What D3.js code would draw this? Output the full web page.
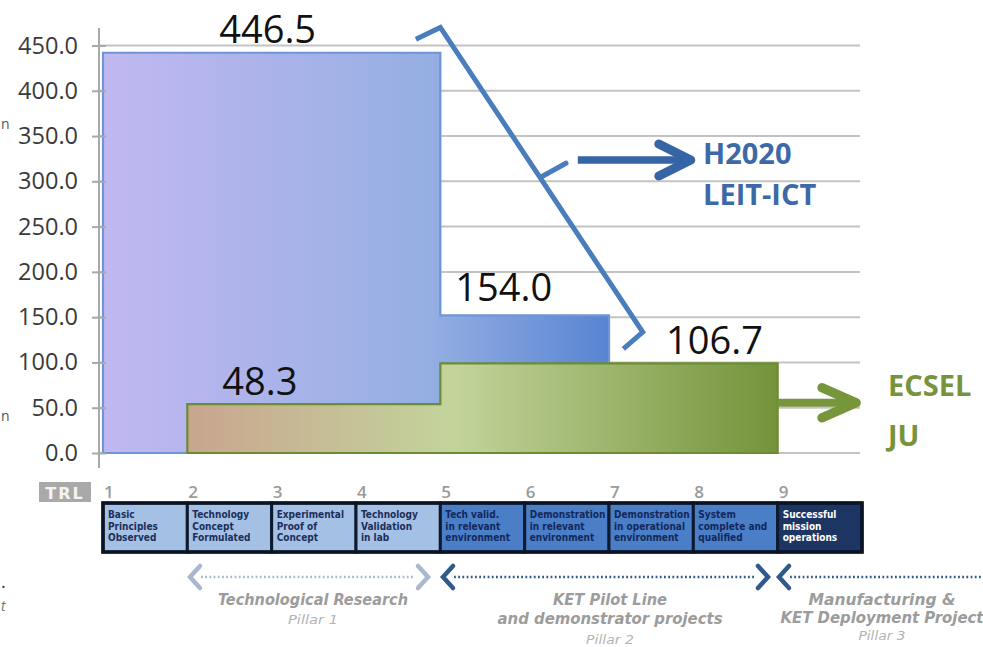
<!DOCTYPE html>
<html><head><meta charset="utf-8">
<script src="https://cdn.jsdelivr.net/npm/d3@7/dist/d3.min.js"></script>
<style>html,body{margin:0;padding:0;background:#fff;overflow:hidden}</style>
</head><body><svg id="c" width="983" height="647"></svg>
<script>
// ---------- data ----------
const trlLevels = [1, 2, 3, 4, 5, 6, 7, 8, 9];
const trlDescriptions = [
  ["Basic", "Principles", "Observed"],
  ["Technology", "Concept", "Formulated"],
  ["Experimental", "Proof of", "Concept"],
  ["Technology", "Validation", "in lab"],
  ["Tech valid.", "in relevant", "environment"],
  ["Demonstration", "in relevant", "environment"],
  ["Demonstration", "in operational", "environment"],
  ["System", "complete and", "qualified"],
  ["Successful", "mission", "operations"]
];
const trlGroups = ["research", "research", "research", "research", "pilot", "pilot", "pilot", "pilot", "mission"];
const yTickValues = [0, 50, 100, 150, 200, 250, 300, 350, 400, 450];
// funding per TRL level (bar heights as drawn)
const h2020Values = [442, 442, 442, 442, 152, 152, 0, 0, 0];
const ecselValues = [0, 54, 54, 54, 99, 99, 99, 99, 0];
const valueLabels = ["446.5", "154.0", "106.7", "48.3"];
const h2020Name = ["H2020", "LEIT-ICT"];
const ecselName = ["ECSEL", "JU"];
const pillarTexts = [
  ["Technological Research", "Pillar 1"],
  ["KET Pilot Line", "and demonstrator projects", "Pillar 2"],
  ["Manufacturing &", "KET Deployment Project", "Pillar 3"]
];

// ---------- setup ----------
const svg = d3.select("#c");
svg.append("rect").attr("width", 983).attr("height", 647).attr("fill", "#fff");
const x = d3.scaleLinear().domain([1, 10]).range([103, 862]);
const y = d3.scaleLinear().domain([0, 450]).range([453, 45.5]);
const AX = 99;

const defs = svg.append("defs");
const gb = defs.append("linearGradient").attr("id", "gBlue").attr("gradientUnits", "userSpaceOnUse")
  .attr("x1", x(1)).attr("x2", x(7)).attr("y1", 0).attr("y2", 0);
gb.append("stop").attr("offset", 0).attr("stop-color", "#c1b8f1");
gb.append("stop").attr("offset", 0.64).attr("stop-color", "#96afe3");
gb.append("stop").attr("offset", 1).attr("stop-color", "#5884d2");
const gg = defs.append("linearGradient").attr("id", "gGreen").attr("gradientUnits", "userSpaceOnUse")
  .attr("x1", x(2)).attr("x2", x(9)).attr("y1", 0).attr("y2", 0);
gg.append("stop").attr("offset", 0).attr("stop-color", "#c9a58f");
gg.append("stop").attr("offset", 0.45).attr("stop-color", "#c3d49b");
gg.append("stop").attr("offset", 1).attr("stop-color", "#74933a");

// gridlines
svg.append("g").selectAll("line").data(yTickValues).join("line")
  .attr("x1", AX).attr("x2", 860).attr("y1", d => y(d)).attr("y2", d => y(d))
  .attr("stroke", "#c3c3c3").attr("stroke-width", 2);

function stepPath(vals) {
  const first = vals.findIndex(v => v > 0);
  let last = vals.length - 1;
  while (vals[last] <= 0) last--;
  const pts = [[x(trlLevels[first]), y(0)]];
  for (let i = first; i <= last; i++) {
    pts.push([x(trlLevels[i]), y(vals[i])]);
    pts.push([x(trlLevels[i] + 1), y(vals[i])]);
  }
  pts.push([x(trlLevels[last] + 1), y(0)]);
  return d3.line()(pts) + "Z";
}
svg.append("path").attr("d", stepPath(h2020Values)).attr("fill", "url(#gBlue)")
  .attr("stroke", "#6d95d8").attr("stroke-width", 2.2);
svg.append("path").attr("d", stepPath(ecselValues)).attr("fill", "url(#gGreen)")
  .attr("stroke", "#6b8c32").attr("stroke-width", 2.2);

// y axis
const yAxis = d3.axisLeft(y).tickValues(yTickValues).tickFormat(d3.format(".1f")).tickSizeInner(7).tickSizeOuter(0).tickPadding(14);
const ga = svg.append("g").attr("transform", `translate(${AX},0)`).call(yAxis);
ga.select(".domain").remove();
ga.append("line").attr("x1", 0).attr("x2", 0).attr("y1", 28).attr("y2", 468).attr("stroke", "#a9a9a9").attr("stroke-width", 2);
ga.selectAll(".tick line").attr("x2", -7).attr("x1", 7).attr("stroke", "#a9a9a9").attr("stroke-width", 2);
ga.selectAll(".tick text").attr("font-family", "Open Sans, sans-serif").attr("font-size", 23.5)
  .attr("fill", "#3a3a3a");

// value labels
const lblFont = "Open Sans, sans-serif";
const labelSpecs = [
  { t: valueLabels[0], cx: (x(1) + x(5)) / 2 - 4, v: h2020Values[0], dy: -10, anchor: "middle" },
  { t: valueLabels[1], cx: x(5) + 15, v: h2020Values[4], dy: -14, anchor: "start" },
  { t: valueLabels[2], cx: x(7) + 57, v: ecselValues[6], dy: -9, anchor: "start" },
  { t: valueLabels[3], cx: x(2) + 35, v: ecselValues[1], dy: -9, anchor: "start" }
];
svg.append("g").selectAll("text").data(labelSpecs).join("text")
  .attr("x", d => d.cx).attr("y", d => y(d.v) + d.dy).attr("text-anchor", d => d.anchor)
  .attr("font-family", lblFont).attr("font-size", 38).attr("fill", "#111").text(d => d.t);

// bracket for H2020
const blueLine = "#4a7dbb";
const br = [[4.71, 457], [5.0, 470], [7.40, 133.5], [7.17, 115]];
svg.append("path").attr("d", d3.line()(br.map(p => [x(p[0]), y(p[1])])))
  .attr("fill", "none").attr("stroke", blueLine).attr("stroke-width", 5).attr("stroke-linejoin", "miter");
svg.append("path").attr("d", d3.line()([[6.2, 305], [6.49, 320]].map(p => [x(p[0]), y(p[1])])))
  .attr("fill", "none").attr("stroke", blueLine).attr("stroke-width", 5).attr("stroke-linecap", "round");

// arrows
function arrow(x0, x1, v, headBack, headSpread, color, w) {
  const g = svg.append("g").attr("stroke", color).attr("fill", "none").attr("stroke-linecap", "round").attr("stroke-linejoin", "round");
  g.append("line").attr("x1", x(x0)).attr("x2", x(x1) - 3).attr("y1", y(v)).attr("y2", y(v)).attr("stroke-width", w).attr("stroke-linecap", "butt");
  g.append("path").attr("d", d3.line()([[x(x1) - headBack, y(v) - headSpread], [x(x1), y(v)], [x(x1) - headBack, y(v) + headSpread]]))
    .attr("stroke-width", w + 1.5);
}
arrow(6.63, 7.97, 323.5, 32, 16, "#3665a6", 7.5);
arrow(9.0, 9.93, 55.5, 34, 15, "#77953b", 8);

// series names
function nameText(lines, xx, ys, color) {
  const t = svg.append("g").attr("font-family", "Open Sans, sans-serif").attr("font-weight", "bold")
    .attr("font-size", 29).attr("fill", color);
  lines.forEach((s, i) => t.append("text").attr("x", xx).attr("y", ys[i]).text(s));
}
nameText(h2020Name, 703, [164, 205], "#3d6aa7");
nameText(ecselName, 888, [396, 446], "#77933c");

// TRL row
const boxTop = 503, boxBot = 552;
svg.append("rect").attr("x", 39).attr("y", 482).attr("width", 52).attr("height", 20).attr("fill", "#a9a9a9");
svg.append("text").attr("x", 65).attr("y", 498.5).attr("text-anchor", "middle").attr("font-family", "DejaVu Sans, sans-serif")
  .attr("font-weight", "bold").attr("font-size", 16).attr("letter-spacing", 2).attr("fill", "#f4f4f4").text("TRL");
svg.append("g").selectAll("text").data(trlLevels).join("text")
  .attr("x", d => x(d) + 1).attr("y", 498).attr("font-family", "Open Sans, sans-serif").attr("font-size", 17)
  .attr("font-weight", 600).attr("fill", "#9a9a9a").text(d => d);
const fillFor = { research: "#a4c0e4", pilot: "#4a7ec7", mission: "#1d3562" };
const textFor = { research: "#1c2f5a", pilot: "#13285a", mission: "#ffffff" };
const boxes = svg.append("g").selectAll("g").data(trlLevels).join("g");
boxes.append("rect").attr("x", d => x(d)).attr("y", boxTop).attr("width", d => x(d + 1) - x(d)).attr("height", boxBot - boxTop)
  .attr("fill", (d, i) => fillFor[trlGroups[i]]).attr("stroke", "#0e1a30").attr("stroke-width", 3);
boxes.each(function (d, i) {
  const g = d3.select(this);
  const avail = x(d + 1) - x(d) - 8;
  trlDescriptions[i].forEach((s, j) => {
    const t = g.append("text").attr("x", x(d) + 5).attr("y", 518 + j * 11.5)
      .attr("font-family", "Liberation Sans Narrow, DejaVu Sans Condensed, Liberation Sans, sans-serif")
      .attr("font-weight", "bold").attr("font-size", 10).attr("fill", textFor[trlGroups[i]]).text(s);
    const L = t.node().getComputedTextLength();
    if (L > avail) t.attr("textLength", avail).attr("lengthAdjust", "spacingAndGlyphs");
  });
});
svg.append("rect").attr("x", x(1)).attr("y", boxTop).attr("width", x(10) - x(1)).attr("height", boxBot - boxTop)
  .attr("fill", "none").attr("stroke", "#0a1426").attr("stroke-width", 3.5);

// pillar arrows
const ay = 577;
function chevron(xx, dir, color) {
  svg.append("path").attr("d", d3.line()([[xx + dir * 10, ay - 11], [xx, ay], [xx + dir * 10, ay + 11]]))
    .attr("fill", "none").attr("stroke", color).attr("stroke-width", 4.5).attr("stroke-linecap", "round");
}
function dots(x0, x1, color) {
  svg.append("line").attr("x1", x0).attr("x2", x1).attr("y1", ay).attr("y2", ay).attr("stroke", color)
    .attr("stroke-width", 2.4).attr("stroke-dasharray", "1.8,2.4");
}
const light = "#a9b8ce", dark = "#2e5b8b";
chevron(190, 1, light); dots(201, 414, light); chevron(428, -1, light);
chevron(443, 1, dark); dots(454, 756, dark); chevron(768, -1, dark);
chevron(779, 1, dark); dots(790, 983, dark);

const pillarSpecs = [
  { cx: 313, ys: [605, 624], widths: [190, 50] },
  { cx: 610, ys: [605, 624, 644], widths: [114, 225, 48] },
  { cx: 882, ys: [605, 623, 640], widths: [147, 203, 47] }
];
pillarSpecs.forEach((p, i) => {
  pillarTexts[i].forEach((s, j) => {
    const last = j === pillarTexts[i].length - 1;
    svg.append("text").attr("x", p.cx).attr("y", p.ys[j]).attr("text-anchor", "middle")
      .attr("font-family", "Liberation Sans Narrow, DejaVu Sans Condensed, Liberation Sans, sans-serif")
      .attr("font-style", "italic").attr("font-weight", last ? "normal" : "bold")
      .attr("font-size", last ? 13 : 15.5).attr("fill", last ? "#b3b3b3" : "#9c9c9c")
      .attr("textLength", p.widths[j]).attr("lengthAdjust", "spacingAndGlyphs").text(s);
  });
});

// text fragments at the left edge of the original picture
const frag = svg.append("g").attr("font-family", "Open Sans, sans-serif").attr("fill", "#555");
frag.append("text").attr("x", 1).attr("y", 129).attr("font-size", 14).text("n");
frag.append("text").attr("x", 1).attr("y", 421).attr("font-size", 14).text("n");
frag.append("text").attr("x", 1).attr("y", 588).attr("font-size", 18).attr("fill", "#333").text(".");
frag.append("text").attr("x", 1).attr("y", 611).attr("font-size", 14).attr("font-style", "italic").attr("fill", "#777").text("t");
</script></body></html>
